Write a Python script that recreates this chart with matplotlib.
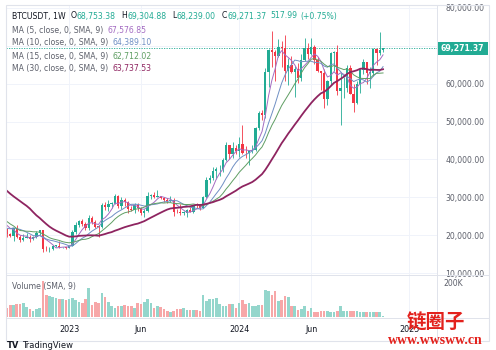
import numpy as np
import pandas as pd
import matplotlib
matplotlib.use("Agg")
import matplotlib.pyplot as plt
import matplotlib.dates as mdates
from matplotlib.patches import Rectangle
from matplotlib.lines import Line2D

# -----------------------------------
# WEEKLY BTCUSDT CANDLES (22 Aug 2022 -> 4 Nov 2024)
# -----------------------------------
opens = [
    21515, 20280, 19790, 21770, 19420, 18800, 19310, 19420, 19070, 19570,
    20630, 21300, 16330, 16280, 16430, 17090, 17100, 16780, 16840,
    16680, 17130, 20870, 22710, 23740, 22930, 21770, 24630, 23490, 22160,
    22110, 27960, 27470, 28170, 28330, 30300, 27590, 29230, 28850, 26910,
    26750, 28070, 27110, 25900, 26340, 30470, 30590, 30160, 30230, 29780,
    29300, 29040, 29300, 26090, 26010, 25830, 25840, 26530, 26250, 27990,
    27920, 27150, 29990, 34530, 35000, 37060, 37360, 37450, 39970, 43700,
    41370, 43000,
    42280, 43950, 41730, 41580, 42120, 42580, 48300, 52140, 51730, 63100,
    68950, 68390, 67200, 69650, 69360, 63420, 64930, 63120, 63900, 61470,
    66270, 69280, 67750, 69650, 66200, 63210, 62680, 55850, 60800, 68170,
    68250, 58160, 58720, 58970, 64220, 57300, 54840, 59980, 63610, 65600,
    62830, 62870, 69030, 67980, 68753.38,
]
highs = [
    21800, 20580, 21860, 22800, 19960, 20380, 20480, 19950, 19700, 21080,
    21480, 21500, 17190, 16810, 17400, 17420, 18390, 16960, 16970,
    17480, 21260, 23370, 23960, 24260, 23380, 25250, 25130, 23890, 22600,
    28390, 28870, 29160, 28800, 31000, 30500, 30040, 29820, 28900, 27660,
    28450, 28450, 27400, 26800, 31430, 31000, 31500, 31800, 30400, 29990,
    29700, 30240, 29700, 26800, 28140, 26400, 26890, 27480, 28050, 28580,
    27990, 30380, 35280, 35980, 38000, 38000, 38460, 40250, 44700, 43800,
    44500, 43800,
    45900, 49050, 43580, 42250, 43880, 48600, 52800, 52980, 64000, 69000,
    73780, 68900, 71770, 71300, 72800, 66850, 67200, 64750, 65500, 67700,
    71950, 70600, 71950, 70200, 66950, 63370, 63800, 61000, 68300, 68500,
    70080, 62700, 61850, 65000, 64950, 59800, 60700, 64130, 66500, 65700,
    64500, 69400, 69500, 73620, 69304.88,
]
lows = [
    19520, 19550, 18540, 19320, 18125, 18470, 19260, 18190, 18650, 19240,
    20050, 15590, 15815, 15480, 16000, 16870, 16520, 16560, 16330,
    16620, 17100, 20400, 22290, 22500, 21450, 21350, 23080, 21900, 19550,
    21900, 26600, 26500, 27200, 28170, 27130, 26940, 27650, 25800, 26330,
    25870, 26500, 25350, 24800, 26250, 29500, 29700, 30000, 29500, 28850,
    28600, 28700, 25170, 25800, 25330, 25370, 24900, 26000, 25990, 27180,
    26560, 27120, 29900, 33900, 34500, 34750, 35600, 36700, 39700, 40200,
    40500, 41400,
    40750, 41500, 40280, 38550, 41800, 42260, 47700, 50500, 50900, 59000,
    64500, 60750, 66900, 64500, 60660, 59600, 62800, 56550, 60190, 60750,
    66050, 66600, 67500, 65050, 63150, 58400, 53500, 54260, 59700, 63400,
    57100, 49000, 56100, 57800, 57200, 52550, 54550, 57500, 62650, 59800,
    58900, 62000, 65000, 67500, 68239.00,
]
closes = [
    20280, 19790, 21770, 19420, 18800, 19310, 19420, 19070, 19570, 20630,
    21300, 16330, 16280, 16430, 17090, 17100, 16780, 16840, 16680,
    17130, 20870, 22710, 23740, 22930, 21770, 24630, 23490, 22160, 22110,
    27960, 27470, 28170, 28330, 30300, 27590, 29230, 28850, 26910, 26750,
    28070, 27110, 25900, 26340, 30470, 30590, 30160, 30230, 29780, 29300,
    29040, 29300, 26090, 26010, 25830, 25840, 26530, 26250, 27990, 27920,
    27150, 29990, 34530, 35000, 37060, 37360, 37450, 39970, 43700, 41370,
    43000, 42280,
    43950, 41730, 41580, 42120, 42580, 48300, 52140, 51730, 63100, 68950,
    68390, 67200, 69650, 69360, 63420, 64930, 63120, 63900, 61470, 66270,
    69280, 67750, 69650, 66200, 63210, 62680, 55850, 60800, 68170, 68250,
    58160, 58720, 58970, 64220, 57300, 54840, 59980, 63610, 65600, 62830,
    62870, 69030, 67980, 68753.38, 69271.37,
]
# weekly closes before the visible range (needed for the moving averages)
prior_closes = [
    42410, 42200, 38360, 37700, 38420, 37780, 41260, 46830, 46410, 42160,
    40380, 39450, 37630, 34300, 31300, 29440, 29440, 29860, 26570, 20550,
    21030, 19300, 21580, 20790, 22580, 23630, 23170, 24300, 21520,
]
# volume in thousands
volume_k = [
    45, 60, 60, 65, 65, 70, 50, 40, 30, 40, 45, 180,
    110, 105, 100, 95, 90, 90, 85,
    90, 95, 85, 75, 70, 90, 145,
    60, 75, 70, 120, 100, 75, 55, 45, 55, 55, 60, 55, 55, 45, 70, 65, 75, 90, 70,
    45, 55, 50, 40, 30, 25, 30, 40, 40, 45, 35, 35, 35, 35, 30,
    110, 80, 90, 90, 95, 65, 55, 55, 65, 65, 45,
    70, 85, 65, 70, 55, 55, 60, 60,
    135, 130, 110, 130, 80, 85, 105, 100, 55, 55, 35, 40, 55, 30, 45, 25, 25,
    30, 30, 30, 25, 25, 30, 55,
    30, 30, 30, 30, 30, 25, 25, 25, 25, 25, 25, 25, 6.5,
]

ma_periods = [5, 10, 15, 30]
ma_values_text = ["67,576.85", "64,389.10", "62,712.02", "63,737.53"]
ma_colors = ["#a46cc2", "#6f8fc4", "#5f9e63", "#8e2460"]
ma_widths = [0.7, 0.7, 0.7, 1.3]

price_ticks = [10000, 20000, 30000, 40000, 50000, 60000, 70000, 80000]
time_tick_dates = ["2023-01-02", "2023-06-05", "2024-01-01", "2024-06-03", "2024-12-30"]
time_tick_labels = ["2023", "Jun", "2024", "Jun", "2025"]

UP = "#22ab94"
DOWN = "#f23645"
UP_VOL = "#94d6cc"
DOWN_VOL = "#f7a7a8"
GRID = "#f0f3fa"
BORDER = "#e0e3eb"
TXT = "#131722"
GRAY = "#5d606b"
MARK = "#e3211c"

# -----------------------------------
# PREP
# -----------------------------------
o = np.array(opens)
h = np.array(highs)
l = np.array(lows)
c = np.array(closes)
dates = pd.date_range("2022-08-22", periods=len(closes), freq="W-MON")
x = mdates.date2num(dates)
up = c >= o

all_close = pd.Series(prior_closes + closes)
mas = [all_close.rolling(n).mean().values[len(prior_closes):] for n in ma_periods]

W, H = 496, 350
fig = plt.figure(figsize=(W / 100, H / 100), dpi=100)
fig.patch.set_facecolor("white")


def px_rect(left, top, right, bottom):
    return [left / W, 1 - bottom / H, (right - left) / W, (bottom - top) / H]


def fx(px):
    return px / W


def fy(py):
    return 1 - py / H


ax = fig.add_axes(px_rect(6, 5, 437, 275))
axv = fig.add_axes(px_rect(6, 275, 437, 317), sharex=ax)

xmin = x[0] - 2.1
xmax = xmin + 922.6

# -----------------------------------
# PRICE PANE
# -----------------------------------
cols = np.where(up, UP, DOWN)
ax.vlines(x, l, h, colors=cols, lw=0.6, zorder=3)
body = np.maximum(np.abs(c - o), 200)
ax.bar(x, body, bottom=np.minimum(o, c), width=5, color=cols, lw=0, zorder=4)

for ma, col, lw in zip(mas, ma_colors, ma_widths):
    ax.plot(x, ma, color=col, lw=lw, zorder=5)

ax.axhline(c[-1], color=UP, lw=0.6, ls=(0, (1.5, 1.5)), zorder=2)

ax.set_xlim(xmin, xmax)
ax.set_ylim(9500, 80740)
ax.set_yticks(price_ticks)
# the 70,000 label sits under the last-price tag
ax.set_yticklabels(["" if v == 70000 else f"{v:,.2f}" for v in price_ticks])
ax.yaxis.tick_right()
ax.tick_params(axis="y", length=0, pad=6, labelsize=5.6, labelcolor=GRAY)
ax.tick_params(axis="x", length=0, labelbottom=False)
ax.grid(color=GRID, lw=0.7)
ax.set_axisbelow(True)
for s in ax.spines.values():
    s.set_visible(False)

# -----------------------------------
# VOLUME PANE
# -----------------------------------
vcols = np.where(up, UP_VOL, DOWN_VOL)
axv.bar(x, volume_k, width=5.6, color=vcols, lw=0, zorder=3)
axv.set_ylim(0, 210)
axv.set_yticks([])
axv.annotate("200K", xy=(1, 200), xycoords=("axes fraction", "data"),
             xytext=(6 * 0.72, -1.5 * 0.72), textcoords="offset points",
             fontsize=5.6, color=GRAY, ha="left", va="top", annotation_clip=False)
axv.set_xticks(mdates.date2num(pd.to_datetime(time_tick_dates)))
axv.set_xticklabels(time_tick_labels)
axv.tick_params(axis="x", length=0, pad=6, labelsize=5.8, labelcolor=TXT)
axv.grid(axis="x", color=GRID, lw=0.7)
axv.set_axisbelow(True)
for s in axv.spines.values():
    s.set_visible(False)
ax.set_xlim(xmin, xmax)

# -----------------------------------
# FRAME LINES
# -----------------------------------
fig.add_artist(Rectangle((fx(6), fy(341)), (489 - 6) / W, (341 - 5) / H,
                         transform=fig.transFigure, fill=False, ec=BORDER, lw=0.8))
for (x0, y0, x1, y1) in [(437, 5, 437, 341), (6, 275, 489, 275), (6, 317.5, 489, 317.5)]:
    fig.add_artist(Line2D([fx(x0), fx(x1)], [fy(y0), fy(y1)], color=BORDER, lw=0.7,
                          transform=fig.transFigure))

# last price label
fig.canvas.draw()
y_last = ax.transData.transform((x[-1], c[-1]))[1]
fig.add_artist(Rectangle((fx(437), (y_last - 6.5) / H), 51 / W, 13 / H,
                         transform=fig.transFigure, color=UP, lw=0))
fig.text(fx(462.5), y_last / H, f"{c[-1]:,.2f}", color="white", fontsize=5.6,
         fontweight="bold", ha="center", va="center")


# -----------------------------------
# LEGEND TEXT
# -----------------------------------
def text_row(parts, x0, y0, size=5.6):
    prev = fig.text(fx(x0), fy(y0), parts[0][0], color=parts[0][1],
                    fontsize=size, ha="left", va="center")
    for s, col, gap in parts[1:]:
        prev = ax.annotate(s, xy=(1, 0.5), xycoords=prev, xytext=(gap * 0.72, 0),
                           textcoords="offset points", color=col, fontsize=size,
                           ha="left", va="center", annotation_clip=False)


text_row([("BTCUSDT, 1W", TXT),
          ("O", TXT, 5), ("68,753.38", UP, 0),
          ("H", TXT, 6), ("69,304.88", UP, 0),
          ("L", TXT, 6), ("68,239.00", UP, 0),
          ("C", TXT, 6), ("69,271.37", UP, 0),
          ("517.99", UP, 4), ("(+0.75%)", UP, 3)], 12, 16)

for i, (n, val, col) in enumerate(zip(ma_periods, ma_values_text, ma_colors)):
    text_row([(f"MA ({n}, close, 0, SMA, 9)", GRAY), (val, col, 4)], 12, 30 + 13 * i)

text_row([("Volume (SMA, 9)", GRAY), ("389.400865", UP, 5)], 12, 287)

# watermark and logo
fig.text(fx(436), fy(323), "链圈子", fontsize=14, color=MARK, fontweight="bold",
         family=["Noto Sans CJK SC"], ha="center", va="center", zorder=10)
fig.text(fx(435), fy(341), "www.wwsww.cn", fontsize=10, color=MARK, fontweight="bold",
         family=["Liberation Serif"], ha="center", va="center", zorder=10)
fig.text(fx(7), fy(345.5), "TV", fontsize=6, color=TXT, fontweight="bold", ha="left", va="center")
fig.text(fx(22), fy(345.5), "TradingView", fontsize=6, color=TXT, ha="left", va="center")

fig.savefig("out.png", dpi=100)
